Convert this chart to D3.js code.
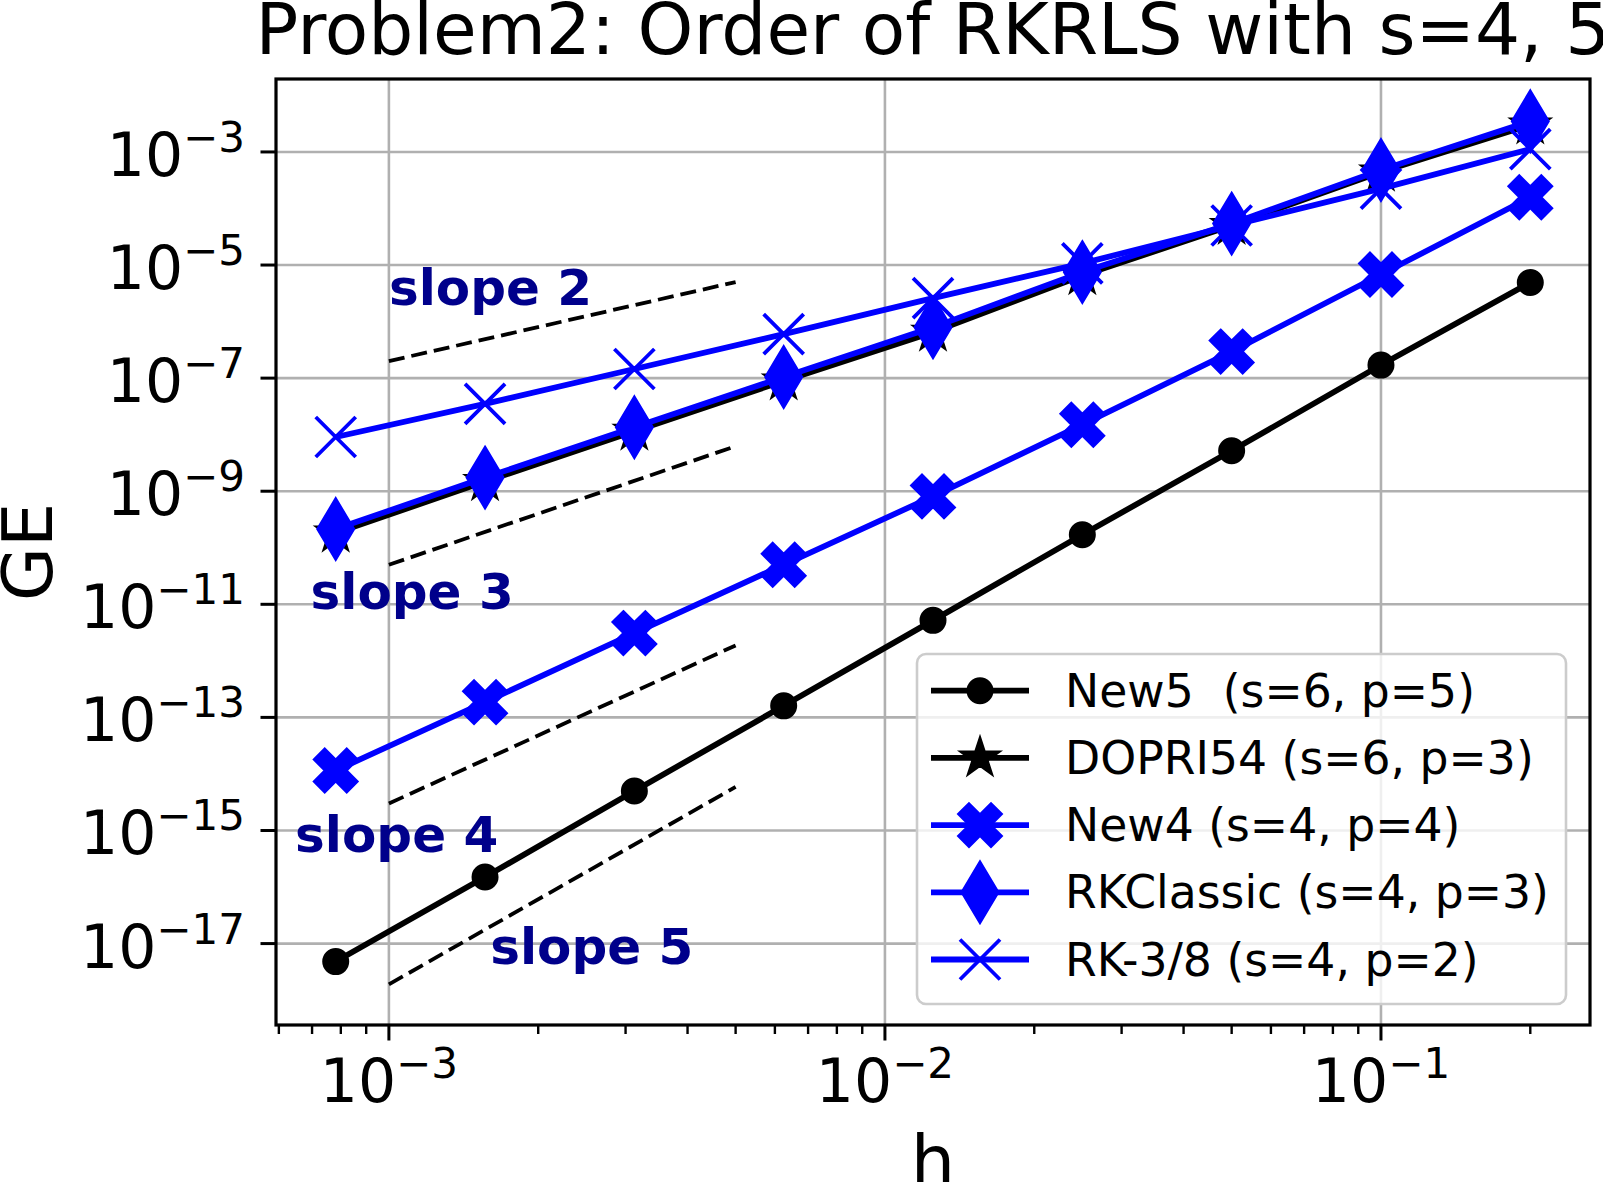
<!DOCTYPE html>
<html>
<head>
<meta charset="utf-8">
<script src="https://cdn.jsdelivr.net/npm/d3@7"></script>
<style>
  body { margin: 0; background: #fff; }
  text { font-family: "DejaVu Sans", sans-serif; }
</style>
</head>
<body>
<div id="chart"></div>
<script>
"use strict"

// step sizes
let hValues = [0.00078125, 0.0015625, 0.003125, 0.00625, 0.0125, 0.025, 0.05, 0.1, 0.2];

// global error of each method, same order as hValues
let geNew5      = [4.8e-18, 1.5e-16, 5.0e-15, 1.6e-13, 5.2e-12, 1.7e-10, 5.2e-9, 1.7e-7, 4.9e-6];
let geDopri54   = [1.82e-10, 1.48e-9, 1.15e-8, 8.9e-8, 6.5e-7, 6.5e-6, 5.0e-5, 4.4e-4, 3.0e-3];
let geNew4      = [1.15e-14, 1.86e-13, 3.1e-12, 5.0e-11, 8.1e-10, 1.5e-8, 2.95e-7, 6.8e-6, 1.58e-4];
let geRKClassic = [2.14e-10, 1.74e-9, 1.35e-8, 1.05e-7, 7.9e-7, 7.5e-6, 5.4e-5, 4.8e-4, 3.5e-3];
let geRK38      = [9.1e-9, 3.5e-8, 1.45e-7, 6.0e-7, 2.6e-6, 1.07e-5, 5.0e-5, 2.24e-4, 1.12e-3];

let seriesNames = ["New5  (s=6, p=5)", "DOPRI54 (s=6, p=3)", "New4 (s=4, p=4)",
                   "RKClassic (s=4, p=3)", "RK-3/8 (s=4, p=2)"];

// reference slope lines (start / end)
let slopeH   = [0.001, 0.005];
let slope2GE = [2e-7, 5e-6];
let slope3GE = [5e-11, 6.25e-9];
let slope4GE = [3e-15, 1.875e-12];
let slope5GE = [1.9e-18, 5.9e-15];
let slopeLabels  = ["slope 2", "slope 3", "slope 4", "slope 5"];
let slopeLabelH  = [0.00100, 0.000695, 0.000647, 0.00160];
let slopeLabelGE = [2.0e-6, 8.1e-12, 4.1e-16, 4.3e-18];

let xTicks = [1e-3, 1e-2, 1e-1];
let yTicks = [1e-3, 1e-5, 1e-7, 1e-9, 1e-11, 1e-13, 1e-15, 1e-17];

let width = 1603, height = 1182;
let plotLeft = 276, plotRight = 1590, plotTop = 79, plotBottom = 1025;

let svg = d3.select("#chart").append("svg")
            .attr("width", width)
            .attr("height", height);

let x = d3.scaleLog()
          .domain([Math.pow(10, -3.2276), Math.pow(10, -0.5786)])
          .range([plotLeft, plotRight]);
let y = d3.scaleLog()
          .domain([Math.pow(10, -18.44), Math.pow(10, -1.71)])
          .range([plotBottom, plotTop]);

// minor ticks on x: 2..9 times each decade
let xMinor = [];
for (let e = -4; e <= -1; e++) {
  for (let k = 2; k <= 9; k++) {
    let v = k * Math.pow(10, e);
    if (v > x.domain()[0] && v < x.domain()[1]) xMinor.push(v);
  }
}

// grid
let grid = svg.append("g").attr("stroke", "#b0b0b0").attr("stroke-width", 2.6);
grid.selectAll(".gx").data(xTicks).enter().append("line")
    .attr("x1", d => x(d)).attr("x2", d => x(d))
    .attr("y1", plotTop).attr("y2", plotBottom);
grid.selectAll(".gy").data(yTicks).enter().append("line")
    .attr("y1", d => y(d)).attr("y2", d => y(d))
    .attr("x1", plotLeft).attr("x2", plotRight);

// reference slope lines
let slopeGE = [slope2GE, slope3GE, slope4GE, slope5GE];
let line = d3.line().x(d => x(d[0])).y(d => y(d[1]));
svg.append("g").selectAll("path").data(slopeGE).enter().append("path")
   .attr("d", d => line(slopeH.map((h, i) => [h, d[i]])))
   .attr("fill", "none")
   .attr("stroke", "#000")
   .attr("stroke-width", 3.8)
   .attr("stroke-dasharray", "16,7");

svg.append("g").selectAll("text").data(slopeLabels).enter().append("text")
   .attr("x", (d, i) => x(slopeLabelH[i]))
   .attr("y", (d, i) => y(slopeLabelGE[i]))
   .attr("font-size", 50)
   .attr("font-weight", "bold")
   .attr("fill", "#00008b")
   .text(d => d);

// marker shapes, drawn around 0,0
function markerPath(type)
{
  if (type === "circle") {
    let p = d3.path();
    p.arc(0, 0, 12.5, 0, 2 * Math.PI);
    p.closePath();
    return p.toString();
  }
  if (type === "star") {
    let pts = [];
    for (let i = 0; i < 10; i++) {
      let r = i % 2 === 0 ? 21 : 21 * 0.381966;
      let a = -Math.PI / 2 + i * Math.PI / 5;
      pts.push([r * Math.cos(a), r * Math.sin(a)]);
    }
    return "M" + pts.map(p => p.join(",")).join("L") + "Z";
  }
  if (type === "Xfill") {
    let s = 44 / 4;
    let pts = [[-1,-2],[0,-1],[1,-2],[2,-1],[1,0],[2,1],[1,2],[0,1],[-1,2],[-2,1],[-1,0],[-2,-1]];
    return "M" + pts.map(p => [p[0] * s, p[1] * s].join(",")).join("L") + "Z";
  }
  if (type === "thinDiamond") {
    return "M0,-31L18.5,0L0,31L-18.5,0Z";
  }
  if (type === "x") {
    return "M-20,-20L20,20M-20,20L20,-20";
  }
}

let seriesGE = [geNew5, geDopri54, geNew4, geRKClassic, geRK38];
let seriesColor = ["#000", "#000", "#0000ff", "#0000ff", "#0000ff"];
let seriesMarker = ["circle", "star", "Xfill", "thinDiamond", "x"];

function drawMarker(g, type, color)
{
  let m = g.append("path").attr("d", markerPath(type));
  if (type === "x") {
    m.attr("fill", "none").attr("stroke", color).attr("stroke-width", 3.8);
  } else {
    m.attr("fill", color).attr("stroke", color).attr("stroke-width", 2);
  }
}

seriesGE.forEach(function(ge, i) {
  let g = svg.append("g");
  let pts = hValues.map((h, j) => [h, ge[j]]);
  g.append("path")
   .attr("d", line(pts))
   .attr("fill", "none")
   .attr("stroke", seriesColor[i])
   .attr("stroke-width", 5.8)
   .attr("stroke-linejoin", "round");
  pts.forEach(function(p) {
    let mg = g.append("g").attr("transform", "translate(" + x(p[0]) + "," + y(p[1]) + ")");
    drawMarker(mg, seriesMarker[i], seriesColor[i]);
  });
});

// axes
let axes = svg.append("g").attr("stroke", "#000");
axes.append("rect")
    .attr("x", plotLeft).attr("y", plotTop)
    .attr("width", plotRight - plotLeft).attr("height", plotBottom - plotTop)
    .attr("fill", "none").attr("stroke-width", 3.2);
axes.selectAll(".tx").data(xTicks).enter().append("line")
    .attr("x1", d => x(d)).attr("x2", d => x(d))
    .attr("y1", plotBottom).attr("y2", plotBottom + 15.5)
    .attr("stroke-width", 3);
axes.selectAll(".mx").data(xMinor).enter().append("line")
    .attr("x1", d => x(d)).attr("x2", d => x(d))
    .attr("y1", plotBottom).attr("y2", plotBottom + 9)
    .attr("stroke-width", 2.4);
axes.selectAll(".ty").data(yTicks).enter().append("line")
    .attr("y1", d => y(d)).attr("y2", d => y(d))
    .attr("x1", plotLeft - 15.5).attr("x2", plotLeft)
    .attr("stroke-width", 3);

function powLabel(t, d)
{
  let e = Math.round(Math.log10(d));
  t.append("tspan").text("10");
  t.append("tspan").attr("dy", -24).attr("font-size", 42).text("\u2212" + Math.abs(e));
}

svg.append("g").selectAll("text").data(xTicks).enter().append("text")
   .attr("x", d => x(d))
   .attr("y", 1102)
   .attr("text-anchor", "middle")
   .attr("font-size", 60)
   .each(function(d) { powLabel(d3.select(this), d); });

svg.append("g").selectAll("text").data(yTicks).enter().append("text")
   .attr("x", 245)
   .attr("y", d => y(d) + 24)
   .attr("text-anchor", "end")
   .attr("font-size", 60)
   .each(function(d) { powLabel(d3.select(this), d); });

// titles (cut at the figure edges, as in the original)
svg.append("text")
   .attr("x", (plotLeft + plotRight) / 2).attr("y", 54)
   .attr("text-anchor", "middle").attr("font-size", 71)
   .text("Problem2: Order of RKRLS with s=4, 5");
svg.append("text")
   .attr("x", (plotLeft + plotRight) / 2).attr("y", 1185)
   .attr("text-anchor", "middle").attr("font-size", 70)
   .text("h");
svg.append("text")
   .attr("transform", "translate(52," + (plotTop + plotBottom) / 2 + ") rotate(-90)")
   .attr("text-anchor", "middle").attr("font-size", 70)
   .text("GE");

// legend
let lg = svg.append("g");
lg.append("rect")
  .attr("x", 917).attr("y", 654).attr("width", 649).attr("height", 350)
  .attr("rx", 9)
  .attr("fill", "#fff").attr("fill-opacity", 0.8)
  .attr("stroke", "#cccccc").attr("stroke-width", 2.6);
seriesNames.forEach(function(name, i) {
  let cy = 690.7 + i * 67.2;
  lg.append("line")
    .attr("x1", 931).attr("x2", 1029).attr("y1", cy).attr("y2", cy)
    .attr("stroke", seriesColor[i]).attr("stroke-width", 5.8);
  let mg = lg.append("g").attr("transform", "translate(980," + cy + ")");
  drawMarker(mg, seriesMarker[i], seriesColor[i]);
  lg.append("text")
    .attr("x", 1065).attr("y", cy + 16)
    .attr("font-size", 45.7)
    .style("white-space", "pre")
    .text(name);
});
</script>
</body>
</html>
